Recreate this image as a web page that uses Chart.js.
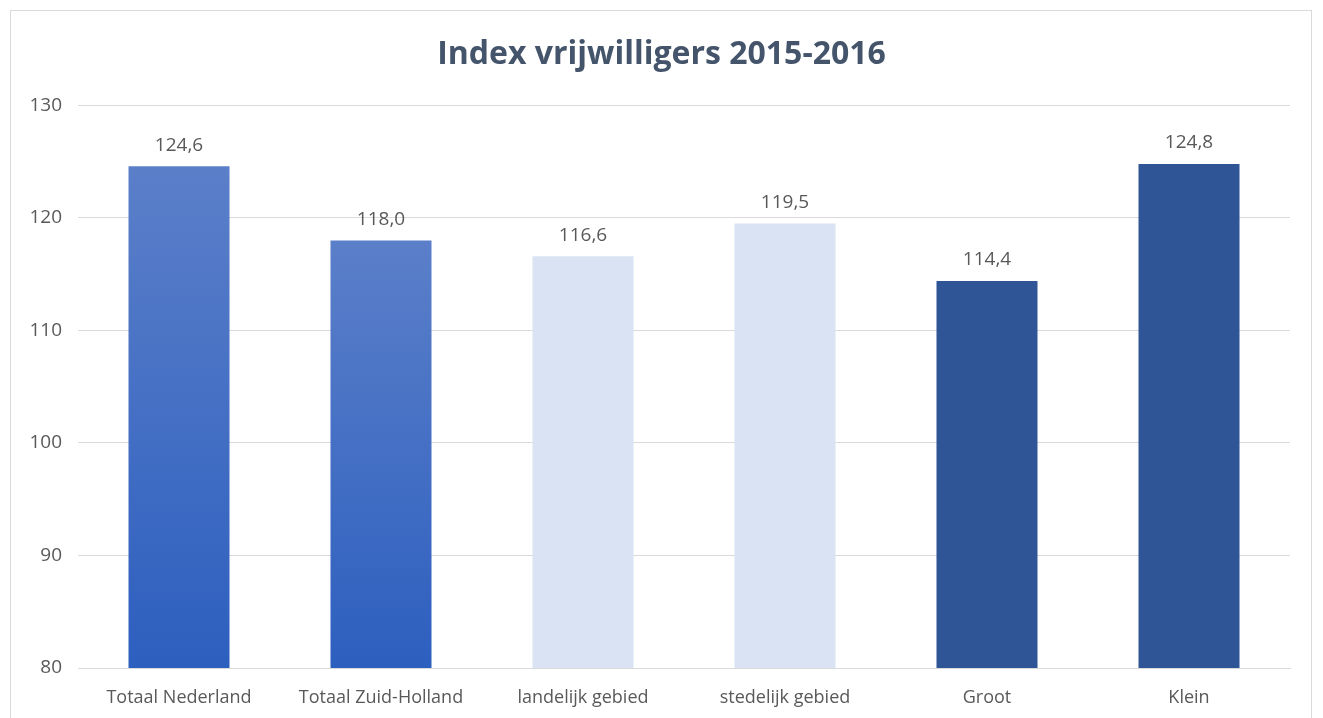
<!DOCTYPE html>
<html>
<head>
<meta charset="utf-8">
<script src="https://cdn.jsdelivr.net/npm/chart.js@4"></script>
<style>
  html, body { margin: 0; padding: 0; background: #fff; }
  #wrap { position: relative; width: 1323px; height: 718px; overflow: hidden; }
  #frame { position: absolute; left: 10px; top: 10px; width: 1302px; height: 720px; border: 1px solid #d9d9d9; box-sizing: border-box; }
  canvas { position: absolute; left: 0; top: 0; }
</style>
</head>
<body>
<div id="wrap">
  <div id="frame"></div>
  <canvas id="chart" width="1323" height="718"></canvas>
</div>
<script>
// gegevens
const categories = ["Totaal Nederland", "Totaal Zuid-Holland", "landelijk gebied", "stedelijk gebied", "Groot", "Klein"];
const values = [124.6, 118.0, 116.6, 119.5, 114.4, 124.8];
const yTicks = [80, 90, 100, 110, 120, 130];

const FONT = "'Open Sans', 'Noto Sans', sans-serif";
const TEXT = "#595959";

// kleur per balk: verloop voor de eerste twee, vlak voor de rest
function barColor(context) {
  const i = context.dataIndex;
  if (i >= 2 && i <= 3) return "#dae3f3";
  if (i >= 4) return "#2f5597";
  const chart = context.chart;
  const area = chart.chartArea;
  if (!area) return "#4472c4";
  const top = chart.scales.y.getPixelForValue(values[i]);
  const g = chart.ctx.createLinearGradient(0, top, 0, area.bottom);
  g.addColorStop(0, "#5b7fc9");
  g.addColorStop(1, "#2d5fbf");
  return g;
}

// waarden boven de balken, met komma
const valueLabels = {
  id: "valueLabels",
  afterLayout(chart) {
    // titel midden boven het hele kader zetten
    const t = chart.titleBlock;
    if (t) {
      t.left = 0;
      t.right = chart.width;
      t.width = chart.width;
    }
  },
  afterDatasetsDraw(chart) {
    const ctx = chart.ctx;
    const meta = chart.getDatasetMeta(0);
    ctx.save();
    ctx.font = "19px " + FONT;
    ctx.fillStyle = TEXT;
    ctx.textAlign = "center";
    ctx.textBaseline = "middle";
    meta.data.forEach((bar, i) => {
      ctx.fillText(values[i].toFixed(1).replace(".", ","), bar.x, bar.y - 21);
    });
    ctx.restore();
  },
};

new Chart(document.getElementById("chart"), {
  type: "bar",
  data: {
    labels: categories,
    datasets: [
      {
        data: values,
        backgroundColor: barColor,
        borderWidth: 0,
        barPercentage: 0.5,
        categoryPercentage: 1.0,
      },
    ],
  },
  options: {
    responsive: false,
    animation: false,
    layout: { padding: { left: 0, right: 33, top: 0, bottom: 0 } },
    plugins: {
      legend: { display: false },
      tooltip: { enabled: false },
      title: {
        display: true,
        text: "Index vrijwilligers 2015-2016",
        color: "#44546a",
        font: { family: FONT, size: 32, weight: "bold" },
        padding: { top: 36, bottom: 31 },
      },
    },
    scales: {
      x: {
        grid: { display: false },
        border: { display: true, color: "#d9d9d9", width: 1 },
        ticks: { color: TEXT, font: { family: FONT, size: 18 }, padding: 11, maxRotation: 0 },
        afterFit(scale) { scale.height = 50; },
      },
      y: {
        min: 80,
        max: 130,
        afterBuildTicks(scale) { scale.ticks = yTicks.map((v) => ({ value: v })); },
        grid: { color: "#d9d9d9", lineWidth: 1, drawTicks: false },
        border: { display: false },
        ticks: { color: TEXT, font: { family: FONT, size: 19 }, padding: 16 },
        afterFit(scale) { scale.width = 78; },
      },
    },
  },
  plugins: [valueLabels],
});
</script>
</body>
</html>
